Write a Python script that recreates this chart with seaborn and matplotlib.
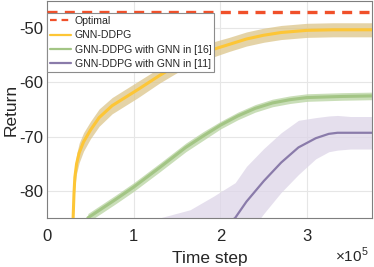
import matplotlib
matplotlib.use("Agg")
import matplotlib.pyplot as plt
import numpy as np
import pandas as pd
import seaborn as sns

# data (time step in units of 1e5)
optimal = -47.0

yel_x = [0.30, 0.31, 0.32, 0.34, 0.37, 0.42, 0.50, 0.60, 0.75, 0.90, 1.05, 1.30, 1.50, 1.70, 1.90, 2.10, 2.30, 2.50, 2.70, 3.00, 3.30, 3.75]
yel_mean = [-85, -80.5, -77.5, -75, -73, -71, -68.8, -66.5, -64.3, -62.8, -61.3, -58.7, -56.8, -55.2, -54, -53, -52, -51.3, -50.8, -50.4, -50.3, -50.3]
yel_std = [1.8, 1.8, 1.8, 1.8, 1.8, 1.7, 1.6, 1.6, 1.5, 1.5, 1.5, 1.4, 1.4, 1.4, 1.4, 1.3, 1.3, 1.3, 1.3, 1.3, 1.3, 1.3]

grn_x = [0.47, 0.80, 1.00, 1.30, 1.60, 1.80, 2.00, 2.20, 2.40, 2.60, 2.80, 3.00, 3.40, 3.75]
grn_mean = [-85, -81.5, -79.3, -75.7, -72, -69.9, -67.9, -66.2, -64.8, -63.8, -63.2, -62.8, -62.6, -62.5]
grn_std = [0.8, 0.8, 0.8, 0.8, 0.8, 0.8, 0.7, 0.7, 0.7, 0.7, 0.7, 0.7, 0.7, 0.7]

pur_x = [1.20, 1.30, 1.65, 1.92, 2.17, 2.30, 2.50, 2.70, 2.90, 3.10, 3.25, 3.35, 3.50, 3.75]
pur_mean = [-93, -92, -90.5, -88, -85, -82, -78.2, -74.8, -72, -70.3, -69.5, -69.3, -69.3, -69.3]
pur_std = [7, 7, 7, 7, 6.5, 6.5, 6, 5.5, 5, 3.8, 3.3, 3.2, 3, 3]

labels = ["GNN-DDPG", "GNN-DDPG with GNN in [16]", "GNN-DDPG with GNN in [11]"]
line_colors = ["#FDC636", "#A3C585", "#8A7BAA"]
band_colors = ["#DCC58A", "#B8D3A0", "#DDD5E8"]
line_widths = [2.2, 2.2, 1.6]

sns.set_theme(style="whitegrid")
plt.rcParams["font.family"] = ["Liberation Sans", "DejaVu Sans"]
plt.rcParams["mathtext.fontset"] = "custom"
plt.rcParams["mathtext.rm"] = "Liberation Sans"

fig = plt.figure(figsize=(3.74, 2.67), dpi=100)
ax = fig.add_axes([0.126, 0.184, 0.869, 0.812])

series = [(yel_x, yel_mean, yel_std), (grn_x, grn_mean, grn_std), (pur_x, pur_mean, pur_std)]

ax.axhline(optimal, color="#F0502A", ls=(0, (3, 2.2)), lw=2.4, label="Optimal", zorder=4)

for (xs, m, s), lab, lc, bc, lw in zip(series, labels, line_colors, band_colors, line_widths):
    xs = np.array(xs)
    m = np.array(m)
    s = np.array(s)
    ax.fill_between(xs * 1e5, m - s, m + s, color=bc, alpha=0.75, lw=0, zorder=2)
    df = pd.DataFrame({"t": xs * 1e5, "r": m})
    sns.lineplot(data=df, x="t", y="r", ax=ax, color=lc, lw=lw, label=lab, zorder=3)

ax.set_xlim(0, 3.75e5)
ax.set_ylim(-85, -45)
ax.set_xticks([0, 1e5, 2e5, 3e5])
ax.set_xticklabels(["0", "1", "2", "3"])
ax.set_yticks([-80, -70, -60, -50])
ax.set_yticklabels(["-80", "-70", "-60", "-50"])
ax.tick_params(axis="both", labelsize=12, colors="#262626", direction="in", length=3)
ax.tick_params(axis="x", pad=8)
ax.tick_params(axis="y", pad=3)
ax.set_xlabel("Time step", fontsize=12.5, labelpad=5)
ax.set_ylabel("Return", fontsize=12.5, labelpad=0)
ax.text(0.99, -0.175, r"$\times10^{5}$", transform=ax.transAxes, ha="right", va="center",
        fontsize=11, color="#262626")

ax.grid(True, color="#E6E6E6", lw=0.8)
ax.set_facecolor("white")
for sp in ax.spines.values():
    sp.set_color("#7F7F7F")
    sp.set_linewidth(0.8)

leg = ax.legend(loc="upper left", bbox_to_anchor=(0.0, 0.945), fontsize=7.6, frameon=True,
                fancybox=False, borderpad=0.3, labelspacing=0.4, handlelength=2.0,
                handletextpad=0.3, borderaxespad=0.0)
leg.get_frame().set_edgecolor("#8C8C8C")
leg.get_frame().set_linewidth(0.8)
leg.get_frame().set_alpha(1)
for ln in leg.get_lines():
    ln.set_linewidth(1.6)

fig.savefig("out.png", dpi=100)
